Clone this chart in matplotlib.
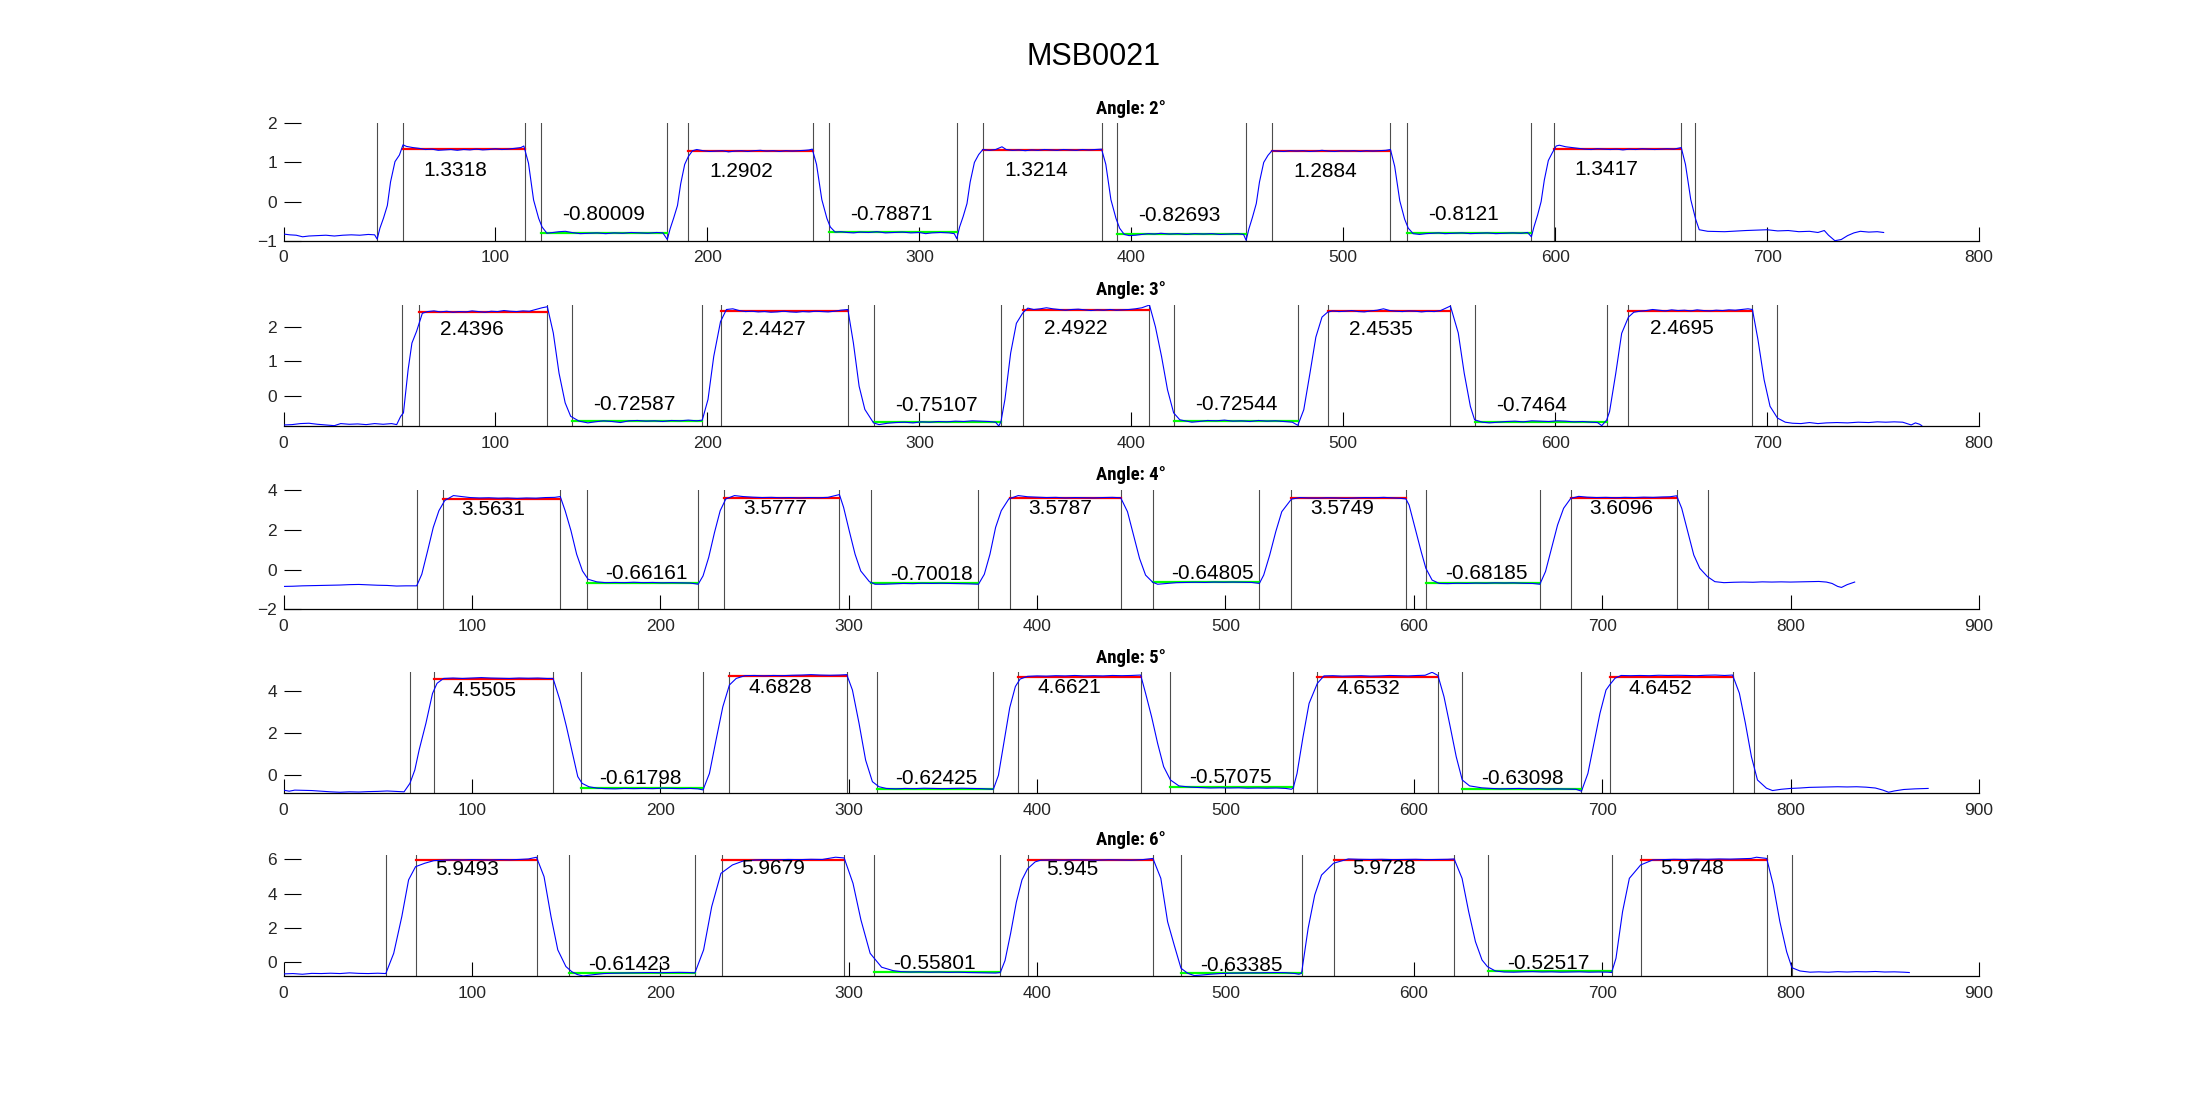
import matplotlib
matplotlib.use("Agg")
import matplotlib.pyplot as plt
from matplotlib import font_manager

plt.rcParams['font.family'] = ['Liberation Sans', 'DejaVu Sans']

fig_title = "MSB0021"
angles = [2, 3, 4, 5, 6]
x_max = [800, 800, 900, 900, 900]
y_lims = [(-1, 2), (-0.87, 2.63), (-2, 4), (-0.85, 4.87), (-0.82, 6.25)]
y_ticks = [[-1, 0, 1, 2], [0, 1, 2], [-2, 0, 2, 4], [0, 2, 4], [0, 2, 4, 6]]

# segment borders (black vertical lines) per angle
borders_2 = [44.2, 56.2, 114.1, 121.3, 181.1, 191, 250, 257.3, 317.7, 329.9,
             386.4, 393.4, 454.2, 466.4, 522.3, 530.2, 588.8, 599.3, 659.5, 665.8]
borders_3 = [56.1, 63.9, 124.5, 136.1, 197.6, 206.2, 266.3, 278.4, 338.5, 348.8,
             408.6, 420.3, 478.6, 492.6, 550.6, 562, 624.3, 634.6, 693.1, 704.9]
borders_4 = [70.7, 84.5, 146.9, 160.9, 220.1, 233.8, 295.1, 311.9, 368.9, 385.4,
             444.3, 461.4, 518, 535, 595.8, 606.4, 666.9, 683.3, 739.5, 755.9]
borders_5 = [67.1, 79.9, 143.1, 157.8, 222.7, 236.7, 299, 314.9, 376.8, 390.1,
             455, 470.8, 536, 548.8, 612.8, 625.7, 689, 703.9, 769.2, 780.8]
borders_6 = [54.3, 70.5, 134.3, 151.5, 218.4, 232.7, 297.6, 313.5, 380.5, 395,
             461.5, 476.3, 540.4, 557.4, 621.4, 639.4, 705, 720.6, 787.3, 800.8]

# plateau means
high_2 = [1.3318, 1.2902, 1.3214, 1.2884, 1.3417]
low_2 = [-0.80009, -0.78871, -0.82693, -0.8121]
high_3 = [2.4396, 2.4427, 2.4922, 2.4535, 2.4695]
low_3 = [-0.72587, -0.75107, -0.72544, -0.7464]
high_4 = [3.5631, 3.5777, 3.5787, 3.5749, 3.6096]
low_4 = [-0.66161, -0.70018, -0.64805, -0.68185]
high_5 = [4.5505, 4.6828, 4.6621, 4.6532, 4.6452]
low_5 = [-0.61798, -0.62425, -0.57075, -0.63098]
high_6 = [5.9493, 5.9679, 5.945, 5.9728, 5.9748]
low_6 = [-0.61423, -0.55801, -0.63385, -0.52517]

trace_2 = [(0,-0.83),(3,-0.85),(6,-0.86),(9,-0.9),(12,-0.88),(16,-0.87),(20,-0.86),(24,-0.88),(28,-0.86),(32,-0.85),
           (36,-0.86),(40,-0.84),(43,-0.85),(44.2,-0.96),(45.5,-0.68),(47.2,-0.42),(49,-0.1),(50.5,0.5),(52.6,1.02),(54.7,1.19),
           (56.4,1.45),(58,1.41),(61,1.38),(64,1.36),(67,1.33),(70,1.34),(73,1.31),(76,1.32),(79,1.33),(82,1.31),(85,1.33),
           (88,1.32),(91,1.34),(94,1.32),(97,1.33),(100,1.35),(103,1.33),(106,1.34),(109,1.36),(112,1.38),(113.4,1.42),
           (115.6,0.98),(118,0.04),(120.4,-0.43),(122,-0.65),(124.3,-0.81),(127,-0.79),(130,-0.77),(133,-0.76),(136,-0.79),
           (140,-0.82),(144,-0.81),(148,-0.8),(152,-0.82),(156,-0.8),(160,-0.81),(164,-0.79),(168,-0.8),(172,-0.81),(176,-0.79),
           (179,-0.8),(181.1,-0.97),(182.4,-0.7),(184.1,-0.42),(185.9,-0.1),(187.4,0.45),(189.3,0.95),(191,1.15),(193,1.3),
           (195,1.33),(198,1.3),(201,1.28),(204,1.29),(207,1.3),(210,1.27),(213,1.29),(216,1.3),(219,1.28),(222,1.3),(225,1.31),
           (228,1.29),(231,1.3),(234,1.28),(237,1.3),(240,1.29),(243,1.3),(246,1.31),(248,1.32),(249.5,1.34),(251.5,0.95),
           (254,0.05),(256.4,-0.43),(258,-0.65),(260.3,-0.78),(263,-0.77),(266,-0.79),(269,-0.8),(272,-0.78),(276,-0.79),
           (280,-0.77),(284,-0.8),(288,-0.79),(292,-0.78),(296,-0.8),(300,-0.79),(303,-0.82),(306,-0.8),(310,-0.79),(314,-0.8),
           (316.5,-0.82),(317.7,-0.95),(319,-0.65),(320.7,-0.38),(322.5,-0.05),(324,0.5),(326,1.0),(328,1.2),(330,1.33),
           (333,1.31),(336,1.33),(339,1.4),(341,1.33),(344,1.31),(347,1.32),(350,1.3),(353,1.32),(356,1.31),(359,1.33),
           (362,1.32),(365,1.31),(368,1.33),(371,1.32),(374,1.31),(377,1.33),(380,1.32),(383,1.33),(386,1.34),(388,0.95),
           (390.4,0.05),(392.8,-0.43),(394.5,-0.68),(396.7,-0.84),(399,-0.87),(402,-0.86),(405,-0.84),(408,-0.82),(411,-0.83),
           (414,-0.81),(418,-0.83),(422,-0.82),(426,-0.84),(430,-0.82),(434,-0.83),(438,-0.82),(442,-0.84),(446,-0.83),
           (450,-0.82),(453,-0.84),(454.2,-0.99),(455.5,-0.7),(457.2,-0.4),(459,-0.05),(460.5,0.5),(462.5,1.0),(464.5,1.18),
           (466.4,1.3),(469,1.29),(472,1.28),(475,1.3),(478,1.29),(481,1.3),(484,1.28),(487,1.29),(490,1.31),(493,1.29),
           (496,1.28),(499,1.3),(502,1.29),(505,1.3),(508,1.28),(511,1.3),(514,1.29),(517,1.3),(520,1.31),(522.3,1.33),
           (524.3,0.9),(526.7,0.02),(529,-0.45),(530.7,-0.68),(533,-0.82),(536,-0.84),(539,-0.82),(542,-0.81),(545,-0.8),
           (548,-0.82),(552,-0.81),(556,-0.8),(560,-0.82),(564,-0.81),(568,-0.8),(572,-0.82),(576,-0.81),(580,-0.8),(584,-0.81),
           (587,-0.79),(588.8,-0.9),(590,-0.65),(591.7,-0.35),(593.4,0.0),(594.9,0.55),(596.8,1.05),(598.7,1.25),(600.5,1.42),
           (602,1.44),(605,1.4),(608,1.38),(611,1.36),(614,1.34),(617,1.33),(620,1.35),(623,1.34),(626,1.33),(629,1.34),
           (632,1.32),(635,1.34),(638,1.33),(641,1.35),(644,1.34),(647,1.33),(650,1.34),(653,1.35),(656,1.34),(659.5,1.38),
           (661.5,0.95),(664,0.05),(666.3,-0.45),(668,-0.72),(672,-0.76),(680,-0.77),(690,-0.74),(700,-0.72),(705,-0.75),
           (710,-0.74),(715,-0.77),(720,-0.76),(724,-0.79),(727,-0.74),(729,-0.86),(732,-1.0),(735,-0.97),(738,-0.87),
           (741,-0.8),(744,-0.76),(748,-0.78),(752,-0.77),(755,-0.79)]

trace_3 = [(0,-0.84),(4,-0.83),(8,-0.8),(12,-0.79),(16,-0.82),(20,-0.84),(24,-0.86),(27,-0.8),(31,-0.82),(35,-0.81),
           (39,-0.83),(43,-0.8),(47,-0.82),(51,-0.8),(53.4,-0.83),(55.3,-0.59),(56.6,-0.49),(58.8,0.76),(60.6,1.53),(62.8,1.87),
           (65.5,2.39),(68,2.44),(71,2.46),(74,2.43),(77,2.45),(80,2.42),(83,2.44),(86,2.43),(89,2.46),(92,2.44),(95,2.42),
           (98,2.45),(101,2.44),(104,2.47),(107,2.45),(110,2.44),(113,2.46),(116,2.45),(119,2.5),(122,2.55),(124.5,2.58),
           (127.3,1.82),(130,0.66),(132.9,-0.2),(135.5,-0.59),(139.5,-0.73),(143.6,-0.78),(147,-0.75),(151,-0.72),(155,-0.74),
           (159,-0.77),(163,-0.72),(167,-0.71),(171,-0.73),(175,-0.72),(179,-0.74),(183,-0.71),(187,-0.72),(191,-0.7),
           (195,-0.72),(197.6,-0.7),(200.3,-0.1),(203,1.14),(206.2,2.15),(209,2.5),(212,2.52),(215,2.47),(218,2.44),(221,2.45),
           (224,2.43),(227,2.44),(230,2.42),(233,2.43),(236,2.45),(239,2.43),(242,2.42),(245,2.44),(248,2.43),(251,2.45),
           (254,2.44),(257,2.43),(260,2.45),(263,2.48),(266.3,2.5),(268.9,1.53),(271.6,0.28),(274.3,-0.39),(278.4,-0.78),
           (281,-0.83),(285,-0.79),(289,-0.77),(293,-0.76),(297,-0.78),(301,-0.75),(305,-0.76),(309,-0.74),(313,-0.75),
           (317,-0.73),(321,-0.74),(325,-0.72),(329,-0.73),(333,-0.74),(336,-0.76),(337.5,-0.87),(338.5,-0.75),(340.4,-0.1),
           (343.1,1.24),(345.8,2.1),(348.8,2.4),(351.2,2.54),(354,2.5),(357,2.52),(360,2.55),(363,2.52),(366,2.5),(369,2.48),
           (372,2.5),(375,2.51),(378,2.49),(381,2.47),(384,2.49),(387,2.48),(390,2.5),(393,2.48),(396,2.49),(399,2.5),
           (402,2.52),(405,2.55),(408.6,2.63),(411.4,2.0),(414.3,1.14),(417.1,0.18),(420,-0.49),(422.9,-0.69),(428.6,-0.76),
           (432,-0.74),(436,-0.71),(440,-0.72),(444,-0.7),(448,-0.73),(452,-0.72),(456,-0.74),(460,-0.71),(464,-0.73),
           (468,-0.72),(472,-0.74),(476,-0.76),(478.6,-0.85),(481.4,-0.4),(484.3,0.65),(487.1,1.7),(490,2.28),(492.6,2.42),
           (495,2.46),(498,2.44),(501,2.45),(504,2.47),(507,2.44),(510,2.43),(513,2.46),(516,2.48),(519,2.52),(522,2.47),
           (525,2.45),(528,2.44),(531,2.46),(534,2.45),(537,2.43),(540,2.45),(543,2.44),(546,2.47),(550.6,2.6),(554.3,1.82),
           (557.1,0.66),(560,-0.3),(562,-0.69),(565.7,-0.76),(569,-0.78),(573,-0.76),(577,-0.74),(581,-0.73),(585,-0.75),
           (589,-0.72),(593,-0.73),(597,-0.74),(601,-0.72),(605,-0.73),(609,-0.75),(613,-0.74),(617,-0.76),(620,-0.77),
           (622,-0.86),(624.3,-0.7),(625.7,-0.45),(628.6,0.65),(631.4,1.81),(634.6,2.28),(637.1,2.42),(640,2.45),(643,2.47),
           (646,2.5),(649,2.48),(652,2.46),(655,2.49),(658,2.47),(661,2.48),(664,2.46),(667,2.49),(670,2.47),(673,2.46),
           (676,2.48),(679,2.47),(682,2.49),(685,2.48),(688,2.5),(691,2.52),(693.1,2.5),(695.7,1.63),(698.6,0.47),(701.4,-0.3),
           (704.9,-0.64),(708.6,-0.76),(712,-0.79),(716,-0.8),(720,-0.77),(724,-0.8),(728,-0.78),(733,-0.77),(738,-0.78),
           (743,-0.76),(748,-0.77),(752,-0.75),(756,-0.76),(760,-0.75),(764,-0.76),(766,-0.8),(768,-0.84),(770,-0.78),
           (772,-0.82),(773,-0.86)]

trace_4 = [(0,-0.85),(5,-0.84),(10,-0.82),(15,-0.81),(20,-0.8),(25,-0.79),(30,-0.78),(35,-0.76),(40,-0.75),(45,-0.77),
           (50,-0.79),(55,-0.8),(60,-0.83),(65,-0.82),(70.7,-0.82),(73.4,-0.24),(76.5,0.94),(79.5,2.12),(82.5,2.96),
           (85.6,3.47),(90.2,3.72),(94.7,3.67),(99,3.62),(104,3.6),(109,3.61),(114,3.59),(119,3.6),(124,3.58),(129,3.6),
           (134,3.59),(139,3.62),(144,3.63),(146.9,3.67),(149.5,2.96),(152.6,1.95),(155.6,0.77),(158.7,-0.07),(161.7,-0.49),
           (166.3,-0.62),(171,-0.66),(176,-0.65),(181,-0.66),(186,-0.64),(191,-0.66),(196,-0.65),(201,-0.67),(206,-0.66),
           (211,-0.67),(216,-0.68),(220.1,-0.74),(222.7,-0.32),(225.7,0.61),(228.8,1.87),(231.8,2.96),(234.8,3.55),
           (239.4,3.72),(244,3.67),(249,3.64),(254,3.62),(259,3.63),(264,3.61),(269,3.62),(274,3.6),(279,3.62),(284,3.61),
           (289,3.63),(295.1,3.77),(297.3,3.13),(300.3,1.95),(303.4,0.77),(306.4,-0.07),(311,-0.61),(314,-0.74),(319,-0.74),
           (324,-0.72),(329,-0.7),(334,-0.71),(339,-0.69),(344,-0.7),(349,-0.69),(354,-0.7),(359,-0.71),(364,-0.72),
           (368.9,-0.74),(372,-0.24),(375,0.77),(378,2.12),(381,2.96),(385,3.55),(390,3.72),(395,3.66),(400,3.64),(405,3.62),
           (410,3.63),(415,3.6),(420,3.62),(425,3.61),(430,3.6),(435,3.62),(440,3.63),(444.4,3.61),(448,2.91),(451.2,1.74),
           (454.4,0.56),(457.6,-0.28),(461.4,-0.64),(464,-0.74),(469,-0.7),(474,-0.66),(479,-0.65),(484,-0.64),(489,-0.65),
           (494,-0.63),(499,-0.64),(504,-0.63),(509,-0.64),(514,-0.65),(518,-0.7),(520.3,-0.28),(523.5,0.73),(526.7,1.9),
           (529.9,2.91),(535,3.54),(539.6,3.62),(544,3.6),(549,3.59),(554,3.61),(559,3.6),(564,3.58),(569,3.6),(574,3.62),
           (579,3.61),(584,3.63),(589,3.6),(593,3.58),(595.8,3.55),(597.5,3.24),(600.7,2.07),(603.9,0.9),(606.4,0.06),
           (609.7,-0.53),(613.5,-0.7),(618,-0.71),(623,-0.69),(628,-0.7),(633,-0.68),(638,-0.69),(643,-0.67),(648,-0.68),
           (653,-0.67),(658,-0.69),(663,-0.7),(666.9,-0.74),(669.9,-0.1),(673.1,1.07),(676.3,2.24),(679.5,3.08),(683.3,3.58),
           (687.5,3.68),(692,3.64),(697,3.62),(702,3.63),(707,3.61),(712,3.63),(717,3.62),(722,3.64),(727,3.63),(732,3.65),
           (736,3.66),(739.5,3.71),(742.2,3.08),(745.4,1.9),(748.6,0.73),(751.8,0.06),(755.9,-0.36),(759.8,-0.61),
           (764.6,-0.66),(770,-0.64),(775,-0.63),(780,-0.64),(785,-0.62),(790,-0.63),(795,-0.62),(800,-0.63),(805,-0.62),
           (810,-0.61),(815,-0.6),(819,-0.63),(822,-0.7),(825,-0.85),(827,-0.9),(830,-0.76),(834,-0.63)]

trace_5 = [(0,-0.7),(3,-0.75),(6,-0.7),(10,-0.71),(15,-0.72),(20,-0.75),(25,-0.78),(30,-0.8),(35,-0.78),(40,-0.79),
           (45,-0.77),(50,-0.76),(55,-0.74),(60,-0.76),(64,-0.78),(67.1,-0.38),(69.7,0.25),(72,1.2),(75.6,2.46),(79.1,3.87),
           (81.5,4.35),(85,4.58),(90,4.6),(95,4.58),(100,4.6),(105,4.62),(110,4.6),(115,4.59),(120,4.58),(125,4.6),(130,4.59),
           (135,4.6),(140,4.58),(143.1,4.58),(146.7,3.56),(150.2,2.3),(153.8,0.88),(156.2,-0.06),(158.5,-0.38),(162.1,-0.54),
           (166.8,-0.61),(171,-0.63),(176,-0.64),(181,-0.62),(186,-0.63),(191,-0.62),(196,-0.63),(201,-0.61),(206,-0.62),
           (211,-0.63),(216,-0.62),(220,-0.64),(222.7,-0.69),(226.1,0.09),(229.6,1.67),(233.2,3.24),(236.7,4.27),(240.3,4.58),
           (245,4.71),(250,4.72),(255,4.7),(260,4.72),(265,4.71),(270,4.73),(275,4.74),(280,4.76),(285,4.74),(290,4.73),
           (295,4.74),(299,4.76),(302,4.03),(305.5,2.46),(309,0.72),(312.6,-0.3),(316.1,-0.54),(320,-0.62),(325,-0.64),
           (330,-0.62),(335,-0.63),(340,-0.61),(345,-0.62),(350,-0.63),(355,-0.62),(360,-0.61),(365,-0.62),(370,-0.63),
           (376.8,-0.66),(379.5,0.0),(382.5,1.6),(385.5,3.2),(388.5,4.2),(391,4.55),(395,4.68),(400,4.7),(405,4.69),
           (410,4.71),(415,4.7),(420,4.72),(425,4.7),(430,4.71),(435,4.7),(440,4.72),(445,4.71),(450,4.72),(455,4.74),
           (457.6,3.88),(460.8,2.77),(464,1.51),(467.2,0.41),(470.8,-0.22),(475.3,-0.5),(481.7,-0.56),(487,-0.58),(492,-0.6),
           (497,-0.59),(502,-0.6),(507,-0.59),(512,-0.61),(517,-0.6),(522,-0.61),(527,-0.6),(532,-0.62),(535,-0.66),
           (536,-0.6),(538,0.09),(541.2,1.83),(544.4,3.4),(548.8,4.35),(552.3,4.7),(557,4.71),(562,4.69),(567,4.7),
           (572,4.71),(577,4.69),(582,4.7),(587,4.72),(592,4.71),(597,4.7),(602,4.72),(606,4.73),(609.7,4.87),(612.8,4.72),
           (616,3.72),(619.3,2.3),(622.5,0.88),(625.7,-0.22),(629.6,-0.5),(636,-0.59),(641,-0.62),(646,-0.64),(651,-0.63),
           (656,-0.62),(661,-0.64),(666,-0.63),(671,-0.65),(676,-0.64),(681,-0.65),(686,-0.66),(689,-0.75),(692.4,0.09),
           (695.6,1.51),(698.8,2.93),(702,4.03),(703.9,4.27),(706.8,4.59),(710,4.72),(715,4.71),(720,4.72),(725,4.71),
           (730,4.73),(735,4.72),(740,4.73),(745,4.72),(750,4.71),(755,4.73),(760,4.74),(765,4.72),(769.2,4.74),(772.8,3.88),
           (776,2.46),(779.2,0.88),(782.4,-0.22),(787.2,-0.61),(790.4,-0.72),(795,-0.66),(800,-0.62),(805,-0.6),(810,-0.57),
           (815,-0.56),(820,-0.55),(825,-0.54),(830,-0.55),(835,-0.54),(840,-0.56),(845,-0.6),(849,-0.7),(852,-0.8),
           (855,-0.74),(860,-0.67),(866,-0.64),(873,-0.62)]

trace_6 = [(0,-0.68),(5,-0.66),(10,-0.7),(15,-0.65),(20,-0.66),(25,-0.64),(30,-0.66),(35,-0.62),(40,-0.65),(45,-0.66),
           (50,-0.64),(54.3,-0.66),(58.5,0.52),(62.8,2.66),(66.4,4.8),(70.1,5.57),(75,5.77),(79.8,5.92),(85,5.95),(90,5.97),
           (95,5.96),(100,5.98),(105,5.97),(110,5.96),(115,5.98),(120,5.97),(125,5.99),(130,6.02),(134.3,6.12),(138.3,4.99),
           (142,2.66),(145.6,0.72),(149.9,-0.25),(153,-0.55),(156,-0.72),(159,-0.8),(165,-0.72),(170,-0.66),(175,-0.64),
           (180,-0.63),(185,-0.62),(190,-0.61),(195,-0.6),(200,-0.61),(205,-0.6),(210,-0.59),(215,-0.6),(218.4,-0.62),
           (223,0.72),(227.3,3.24),(232.2,5.18),(238.3,5.67),(244,5.9),(250.4,5.96),(256,5.98),(262,5.97),(268,5.99),
           (274,5.98),(280,6.0),(286,5.99),(293,6.12),(297.6,6.08),(302.3,4.6),(306.5,2.47),(311.4,0.52),(317.5,-0.29),
           (323.6,-0.49),(328,-0.55),(333,-0.57),(338,-0.56),(343,-0.58),(348,-0.57),(353,-0.59),(358,-0.58),(363,-0.6),
           (368,-0.61),(373,-0.62),(378,-0.63),(380.5,-0.6),(383,0.1),(386,1.7),(389,3.5),(392,4.8),(395,5.45),(399,5.85),
           (402,5.95),(408,5.96),(414,5.95),(420,5.97),(426,5.96),(432,5.95),(438,5.97),(444,5.96),(450,5.95),(456,5.98),
           (461.5,6.05),(465.7,4.89),(469.3,2.36),(472.8,1.0),(476.4,-0.35),(479.9,-0.64),(483.5,-0.78),(487,-0.75),
           (492,-0.7),(497,-0.66),(502,-0.64),(507,-0.63),(512,-0.62),(517,-0.62),(522,-0.61),(527,-0.6),(532,-0.61),
           (537,-0.66),(539,-0.7),(540.4,-0.64),(543.9,1.98),(547.4,3.92),(551,5.08),(557.4,5.77),(565.2,6.02),(571,6.0),
           (577,5.99),(583,6.0),(589,5.98),(595,5.99),(601,6.0),(607,5.98),(613,5.99),(618,6.0),(621.4,6.02),(625.6,4.89),
           (629.1,2.95),(632.7,1.2),(636.2,0.13),(639.1,-0.26),(643.3,-0.51),(648,-0.57),(653,-0.58),(658,-0.56),(663,-0.55),
           (668,-0.57),(673,-0.56),(678,-0.58),(683,-0.57),(688,-0.56),(693,-0.58),(698,-0.57),(703,-0.58),(705,-0.6),
           (707.3,0.23),(710.8,2.95),(714.4,4.89),(720.4,5.67),(726.8,5.96),(732,5.98),(738,6.0),(744,5.99),(750,6.01),
           (756,6.0),(762,6.02),(768,6.01),(774,6.03),(779,6.05),(781.9,6.12),(785,6.08),(787.3,6.05),(790.8,4.5),
           (794.3,2.36),(797.9,0.61),(800.7,-0.32),(805,-0.51),(810.3,-0.58),(815,-0.56),(820,-0.58),(825,-0.55),(830,-0.57),
           (835,-0.55),(840,-0.56),(845,-0.54),(850,-0.57),(855,-0.56),(860,-0.58),(863,-0.6)]

borders = [borders_2, borders_3, borders_4, borders_5, borders_6]
highs = [high_2, high_3, high_4, high_5, high_6]
lows = [low_2, low_3, low_4, low_5, low_6]
traces = [trace_2, trace_3, trace_4, trace_5, trace_6]

# axes boxes measured in pixels (top, bottom)
rows_px = [(123.3, 240.7), (305, 426), (490, 609.3), (672.3, 793.3), (855, 976.3)]
W, H = 2187, 1094

# narrow bold face for the panel titles if one is installed
names = {f.name for f in font_manager.fontManager.ttflist}
title_font = dict(family='Liberation Sans', size=12, weight='bold')
for fam in ['Liberation Sans Narrow', 'Roboto Condensed', 'Open Sans Condensed']:
    if fam in names:
        title_font = dict(family=fam, size=13.5, weight='bold')
        break

fig = plt.figure(figsize=(W / 100, H / 100), dpi=100)
fig.text(0.5, 1 - 65.3 / H, fig_title, ha='center', va='baseline', fontsize=22)

for i in range(5):
    top, bot = rows_px[i]
    ax = fig.add_axes([283.5 / W, 1 - bot / H, 1695.5 / W, (bot - top) / H])
    v = borders[i]
    for xv in v:
        ax.axvline(xv, color='#4d4d4d', lw=0.8, zorder=1)
    for k, m in enumerate(highs[i]):
        ax.plot([v[4 * k + 1], v[4 * k + 2]], [m, m], color='#ff0000', lw=1.6, zorder=2)
        ax.text(v[4 * k + 1] + 10, m - 0.53, '%.5g' % m, ha='left', va='center', fontsize=15, zorder=4)
    for k, m in enumerate(lows[i]):
        ax.plot([v[4 * k + 3], v[4 * k + 4]], [m, m], color='#00ff00', lw=1.6, zorder=2)
        ax.text(v[4 * k + 3] + 10, m + 0.47, '%.5g' % m, ha='left', va='center', fontsize=15, zorder=4)
    tx = [p[0] for p in traces[i]]
    ty = [p[1] for p in traces[i]]
    ax.plot(tx, ty, color='#0000ff', lw=0.8, zorder=3)

    ax.set_xlim(0, x_max[i])
    ax.set_ylim(*y_lims[i])
    ax.set_xticks(range(0, x_max[i] + 1, 100))
    ax.set_yticks(y_ticks[i])
    for s in ['top', 'right', 'left']:
        ax.spines[s].set_visible(False)
    ax.spines['bottom'].set_linewidth(0.9)
    ax.tick_params(axis='x', direction='in', length=10, width=0.8, pad=7,
                   labelsize=12.5, labelcolor='#262626')
    ax.tick_params(axis='y', direction='in', length=12, width=0.8, pad=4.5,
                   labelsize=12.5, labelcolor='#262626')
    ax.set_title('Angle: %d°' % angles[i], pad=7, **title_font)

fig.savefig('out.png', dpi=100)
